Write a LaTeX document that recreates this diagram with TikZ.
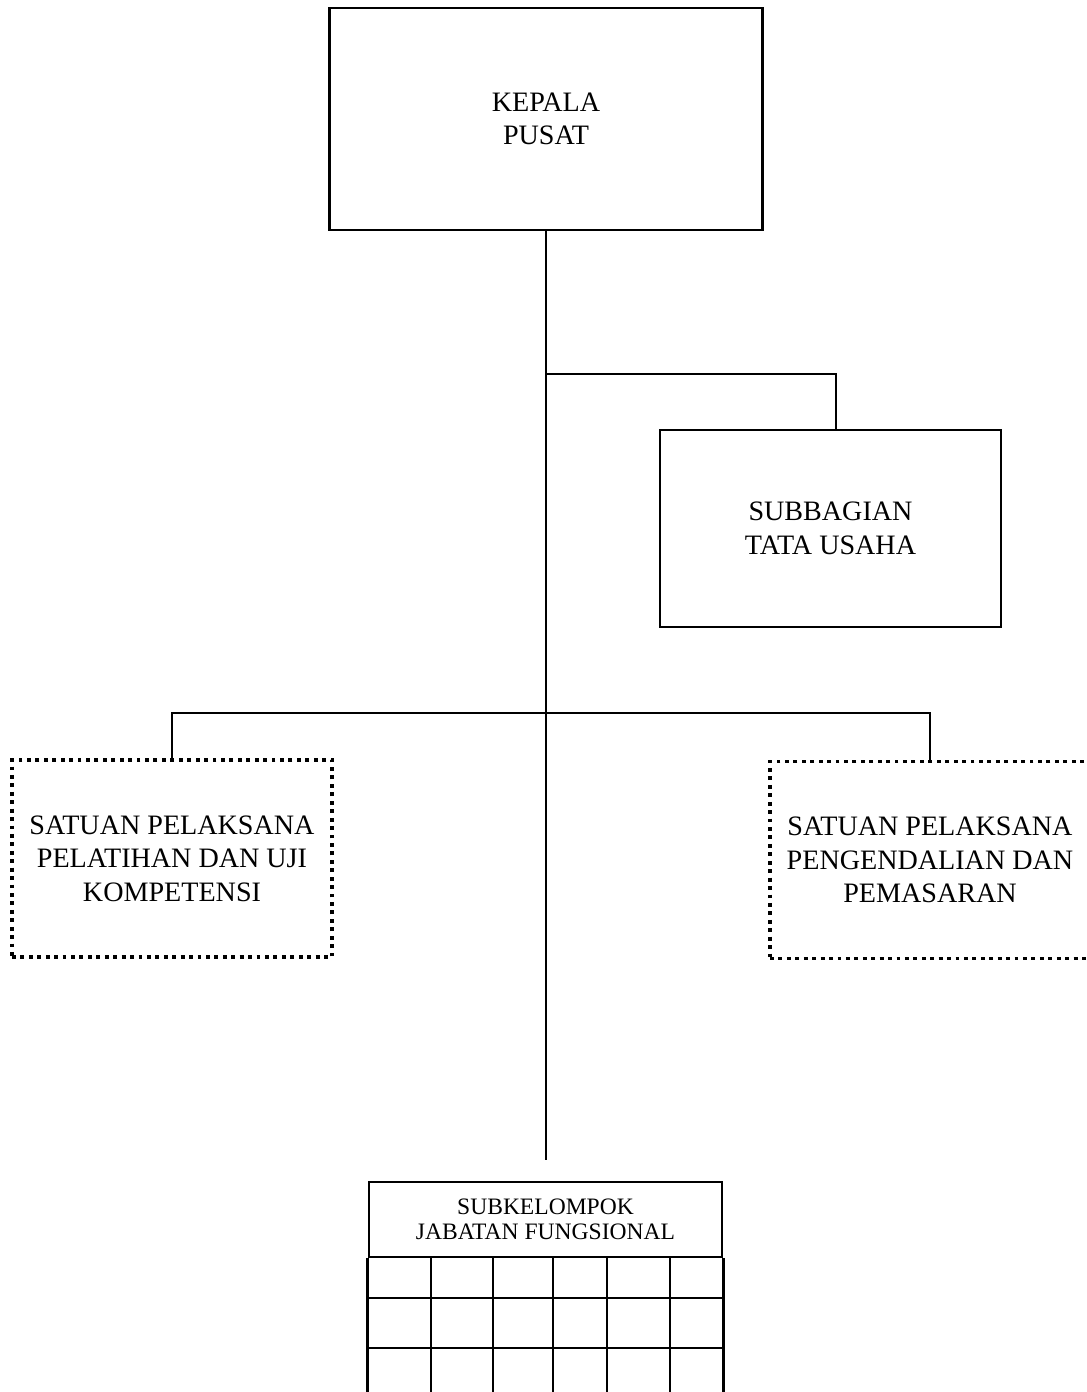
\documentclass[tikz,border=0pt]{standalone}
\usepackage{fontspec}
\setmainfont{Liberation Serif}
\usetikzlibrary{positioning}

\begin{document}
\begin{tikzpicture}[
    x=0.02cm, y=-0.02cm,
    line width=1.4pt,
    unit/.style={rectangle, draw, line width=1.5pt, align=center, inner sep=0pt,
        font=\fontsize{16}{19}\selectfont},
    satuan/.style={unit, line width=2.2pt, dash pattern=on 2.2pt off 2.6pt},
    jabatan/.style={rectangle, draw, line width=1.5pt, align=center, inner sep=0pt,
        font=\fontsize{13.4}{14}\selectfont}
]
\useasboundingbox (0,0) rectangle (1086,1392);

% Kepala and Tata Usaha
\node[unit, minimum width=8.66cm, minimum height=4.44cm] (kepala) at (546,119) {KEPALA\\PUSAT};
\node[unit, minimum width=6.82cm, minimum height=3.94cm] (tatausaha) at (830.5,528.5) {SUBBAGIAN\\TATA USAHA};

% Satuan pelaksana (dotted)
\node[satuan, minimum width=6.4cm, minimum height=3.94cm] (pelatihan) at (172,858.5) {SATUAN PELAKSANA\\PELATIHAN DAN UJI\\KOMPETENSI};
\node[satuan, minimum width=6.4cm, minimum height=3.94cm] (pemasaran) at (930,860) {SATUAN PELAKSANA\\PENGENDALIAN DAN\\PEMASARAN};

% Kelompok jabatan fungsional
\node[jabatan, minimum width=7.06cm, minimum height=1.5cm] (fungsional) at (545.5,1219.5) {SUBKELOMPOK\\JABATAN FUNGSIONAL};
\draw[line width=1.5pt] (fungsional.south west) -- ++(0,140);
\draw[line width=1.5pt] (fungsional.south east) -- ++(0,140);
\foreach \cx in {431,493,553,607,670}
    \draw[line width=1.5pt] (\cx,1257) -- (\cx,1396);
\foreach \ry in {1298,1348}
    \draw[line width=1.5pt] (369,\ry) -- (722,\ry);

% Connectors
\coordinate (hubtu) at (546,374);
\coordinate (hubsatuan) at (546,713);
\coordinate (ujung) at (546,1160);
\draw (kepala.south) -- (ujung);
\draw (hubtu) -| ([xshift=0.11cm]tatausaha.north);
\draw (pelatihan.north) |- (hubsatuan) -| (pemasaran.north);

\end{tikzpicture}
\end{document}
